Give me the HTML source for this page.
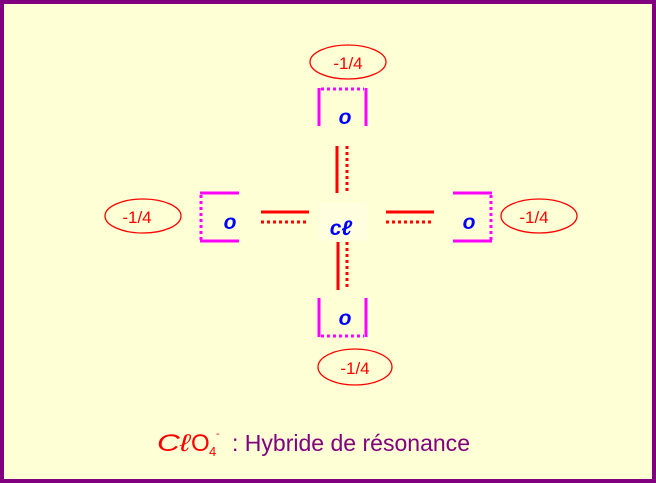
<!DOCTYPE html>
<html><head><meta charset="utf-8"><style>
html,body{margin:0;padding:0;background:#FFFFD5;}
svg{display:block}
</style></head><body>
<svg width="656" height="483" viewBox="0 0 656 483" xmlns="http://www.w3.org/2000/svg">
<rect x="0" y="0" width="656" height="483" fill="#FFFFD5"/>
<rect x="2" y="2" width="652" height="479" fill="none" stroke="#800080" stroke-width="4"/>
<g fill="none" stroke="#FF0000" stroke-width="1.3">
<ellipse cx="348" cy="62" rx="38" ry="17"/>
<ellipse cx="355" cy="367" rx="37" ry="18"/>
<ellipse cx="143" cy="216" rx="38" ry="17"/>
<ellipse cx="539" cy="216" rx="38" ry="17"/>
</g>
<g font-family="Liberation Sans, sans-serif" font-size="17" fill="#FF0000" text-anchor="middle">
<text x="348" y="69">-1/4</text>
<text x="355" y="374">-1/4</text>
<text x="137" y="223">-1/4</text>
<text x="534" y="223">-1/4</text>
</g>
<g stroke="#FF00FF" stroke-width="3" fill="none">
<line x1="319" y1="88" x2="319" y2="126"/><line x1="366" y1="88" x2="366" y2="126"/>
<line x1="321" y1="89" x2="364" y2="89" stroke-dasharray="3,3"/>
<line x1="319" y1="298" x2="319" y2="337"/><line x1="366" y1="298" x2="366" y2="337"/>
<line x1="321" y1="336" x2="364" y2="336" stroke-dasharray="3,3"/>
<line x1="200" y1="193" x2="239" y2="193"/><line x1="200" y1="241" x2="239" y2="241"/>
<line x1="201" y1="195" x2="201" y2="240" stroke-dasharray="3,3"/>
<line x1="453" y1="193" x2="492" y2="193"/><line x1="453" y1="241" x2="492" y2="241"/>
<line x1="491" y1="195" x2="491" y2="240" stroke-dasharray="3,3"/>
</g>
<g stroke="#FF0000" stroke-width="3" fill="none">
<line x1="261" y1="212" x2="309" y2="212"/><line x1="261" y1="222" x2="309" y2="222" stroke-dasharray="3,3"/>
<line x1="386" y1="212" x2="434" y2="212"/><line x1="386" y1="222" x2="434" y2="222" stroke-dasharray="3,3"/>
<line x1="337" y1="146" x2="337" y2="193"/><line x1="347" y1="146" x2="347" y2="193" stroke-dasharray="3,3"/>
<line x1="338" y1="242" x2="338" y2="290"/><line x1="347" y1="242" x2="347" y2="290" stroke-dasharray="3,3"/>
</g>
<rect x="319" y="203" width="48" height="38" fill="#FFFFE0"/>
<g font-family="Liberation Sans, sans-serif" font-style="italic" font-weight="bold" font-size="21" fill="#0000FF" text-anchor="middle">
<text x="345" y="124">o</text>
<text x="345" y="325">o</text>
<text x="230" y="229">o</text>
<text x="469" y="229">o</text>
<text x="341" y="235">cℓ</text>
</g>
<g font-family="Liberation Sans, sans-serif" fill="#FF0000">
<text x="157" y="451" font-size="24" font-style="italic" textLength="33" lengthAdjust="spacingAndGlyphs">Cℓ</text>
<text x="191" y="451" font-size="24">O</text>
<text x="209" y="456" font-size="13">4</text>
<text x="216" y="437" font-size="11">-</text>
</g>
<text x="232" y="451" font-family="Liberation Sans, sans-serif" font-size="23" fill="#800080" textLength="238" lengthAdjust="spacingAndGlyphs">: Hybride de résonance</text>
</svg>
</body></html>
